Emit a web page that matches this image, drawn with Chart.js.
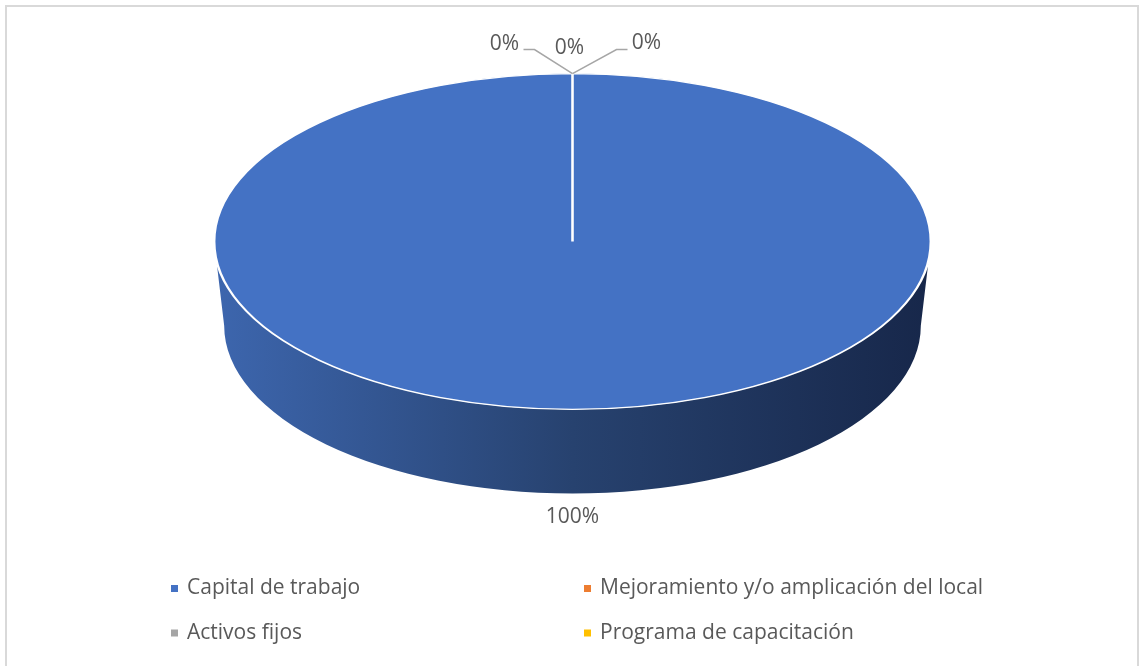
<!DOCTYPE html>
<html><head><meta charset="utf-8">
<script src="https://cdn.jsdelivr.net/npm/chart.js@4"></script>
<style>
html,body{margin:0;padding:0;background:#fff;overflow:hidden}
#wrap{position:relative;width:1140px;height:666px}
#frame{position:absolute;left:5px;top:5px;width:1134px;height:700px;border:2px solid #d9d9d9;box-sizing:border-box}
canvas{position:absolute;left:0;top:0}
</style></head><body>
<div id="wrap"><div id="frame"></div><canvas id="c" width="1140" height="666"></canvas></div>
<script>
const categories = ['Capital de trabajo','Mejoramiento y/o amplicación del local','Activos fijos','Programa de capacitación'];
const values = [100, 0, 0, 0];
const colors = ['#4472C4','#ED7D31','#A5A5A5','#FFC000'];

const STRETCH_X = 357.5 / 167.5;
const DEPTH = 84 / 167.5;
const FONT = '21px "Open Sans", sans-serif';
const TXT = '#595959';

const pie3d = {
  id: 'pie3d',
  beforeDatasetsDraw(chart) {
    const arc = chart.getDatasetMeta(0).data[0];
    const cx = arc.x, cy = arc.y, R = arc.outerRadius;
    const rx = R * STRETCH_X, d = R * DEPTH, rxb = rx * 0.972;
    const ctx = chart.ctx;
    ctx.save();
    const g = ctx.createLinearGradient(cx - rx, 0, cx + rx, 0);
    g.addColorStop(0, '#3d66ae');
    g.addColorStop(0.5, '#27426f');
    g.addColorStop(1, '#17274a');
    ctx.beginPath();
    ctx.ellipse(cx, cy, rx, R, 0, 0, Math.PI, false);
    ctx.ellipse(cx, cy + d, rxb, R, 0, Math.PI, 0, true);
    ctx.closePath();
    ctx.fillStyle = g;
    ctx.fill();
    ctx.restore();
    ctx.save();
    ctx.translate(cx, 0); ctx.scale(STRETCH_X, 1); ctx.translate(-cx, 0);
  },
  afterDatasetsDraw(chart) {
    const ctx = chart.ctx;
    ctx.restore();
    const arc = chart.getDatasetMeta(0).data[0];
    const cx = arc.x, cy = arc.y, R = arc.outerRadius, d = R * DEPTH;
    const data = chart.data.datasets[0].data;
    const total = data.reduce((a, b) => a + b, 0);
    ctx.save();
    ctx.font = FONT;
    ctx.fillStyle = TXT;
    ctx.textAlign = 'center';
    ctx.textBaseline = 'middle';
    const tx = cx, ty = cy - R;
    const slots = [
      {lbl: [-68, -30], line: [[-38, -24], [-49, -24]]},
      {lbl: [-3, -26], line: null},
      {lbl: [74, -31], line: [[44, -24], [55, -24]]}
    ];
    let k = 0;
    data.forEach((v, i) => {
      const pct = Math.round(v / total * 100) + '%';
      if (v === total) {
        ctx.fillText(pct, cx, cy + R + d + 23);
      } else {
        const s = slots[k++ % slots.length];
        if (s.line) {
          ctx.strokeStyle = '#a6a6a6';
          ctx.lineWidth = 1.5;
          ctx.beginPath();
          ctx.moveTo(tx, ty);
          ctx.lineTo(tx + s.line[0][0], ty + s.line[0][1]);
          ctx.lineTo(tx + s.line[1][0], ty + s.line[1][1]);
          ctx.stroke();
        }
        ctx.fillText(pct, tx + s.lbl[0], ty + s.lbl[1]);
      }
    });
    ctx.restore();
  },
  afterDraw(chart) {
    const ctx = chart.ctx;
    const cols = [171, 584], rows = [588.5, 633];
    ctx.save();
    ctx.font = FONT;
    ctx.textBaseline = 'middle';
    ctx.textAlign = 'left';
    chart.data.labels.forEach((lab, i) => {
      const x = cols[i % 2], y = rows[Math.floor(i / 2)];
      ctx.fillStyle = chart.data.datasets[0].backgroundColor[i];
      ctx.fillRect(x, y - 3.5, 7, 7);
      ctx.fillStyle = TXT;
      ctx.fillText(lab, x + 16, y);
    });
    ctx.restore();
  }
};

new Chart(document.getElementById('c'), {
  type: 'pie',
  data: {
    labels: categories,
    datasets: [{
      data: values,
      backgroundColor: colors,
      borderColor: '#ffffff',
      borderWidth: 1.2
    }]
  },
  options: {
    responsive: false,
    animation: false,
    layout: {padding: {left: 220, right: 215, top: 73, bottom: 256}},
    plugins: {legend: {display: false}, tooltip: {enabled: false}}
  },
  plugins: [pie3d]
});
</script>
</body></html>
